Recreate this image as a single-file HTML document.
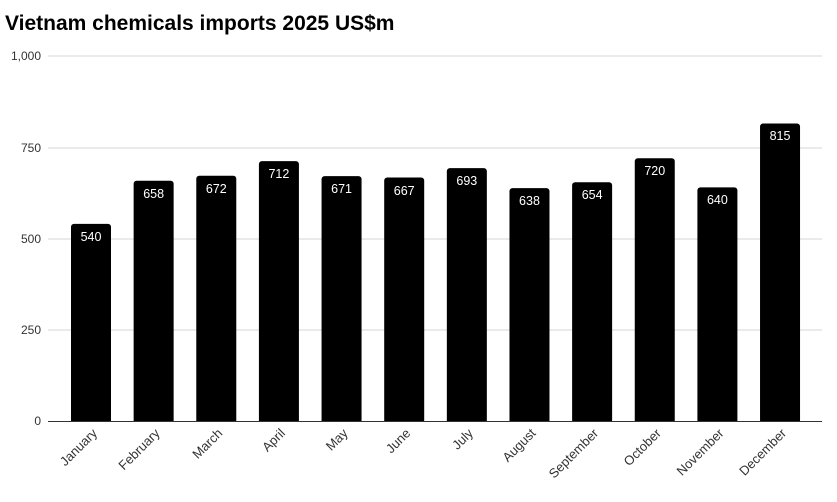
<!DOCTYPE html>
<html><head><style>body{margin:0;background:#fff}svg{display:block}</style></head><body>
<svg width="837" height="502" xmlns="http://www.w3.org/2000/svg" font-family="Liberation Sans, sans-serif">
<text x="5" y="30" font-size="21" font-weight="bold" fill="#000">Vietnam chemicals imports 2025 US$m</text>
<g stroke="#dddddd" stroke-width="1.3">
<line x1="48" x2="822" y1="56" y2="56"/><line x1="48" x2="822" y1="148" y2="148"/><line x1="48" x2="822" y1="239" y2="239"/><line x1="48" x2="822" y1="330" y2="330"/>
</g>
<g font-size="12" fill="#333" text-anchor="end">
<text x="41" y="60">1,000</text><text x="41" y="152">750</text><text x="41" y="243">500</text><text x="41" y="334">250</text><text x="41" y="425">0</text>
</g>
<g fill="#000">
<rect x="71" y="223.9" width="40" height="200" rx="3"/>
<rect x="133.64" y="180.8" width="40" height="243" rx="3"/>
<rect x="196.28" y="175.7" width="40" height="248" rx="3"/>
<rect x="258.92" y="161.1" width="40" height="263" rx="3"/>
<rect x="321.56" y="176.1" width="40" height="248" rx="3"/>
<rect x="384.2" y="177.5" width="40" height="246" rx="3"/>
<rect x="446.84" y="168.1" width="40" height="256" rx="3"/>
<rect x="509.48" y="188.1" width="40" height="236" rx="3"/>
<rect x="572.12" y="182.3" width="40" height="241" rx="3"/>
<rect x="634.76" y="158.2" width="40" height="266" rx="3"/>
<rect x="697.4" y="187.4" width="40" height="236" rx="3"/>
<rect x="760.04" y="123.5" width="40" height="300" rx="3"/>
</g>
<rect x="48" y="422" width="780" height="5" fill="#fff"/>
<line x1="48" x2="822" y1="421.5" y2="421.5" stroke="#333" stroke-width="1"/>
<g font-size="12.5" fill="#fff" text-anchor="middle">
<text x="91" y="241">540</text>
<text x="153.64" y="198">658</text>
<text x="216.28" y="193">672</text>
<text x="278.92" y="178">712</text>
<text x="341.56" y="193">671</text>
<text x="404.2" y="195">667</text>
<text x="466.84" y="185">693</text>
<text x="529.48" y="205">638</text>
<text x="592.12" y="199">654</text>
<text x="654.76" y="175">720</text>
<text x="717.4" y="204">640</text>
<text x="780.04" y="140">815</text>
</g>
<g font-size="13" fill="#333" text-anchor="end">
<text transform="translate(98,434) rotate(-45)">January</text>
<text transform="translate(160.64,434) rotate(-45)">February</text>
<text transform="translate(223.28,434) rotate(-45)">March</text>
<text transform="translate(285.92,434) rotate(-45)">April</text>
<text transform="translate(348.56,434) rotate(-45)">May</text>
<text transform="translate(411.2,434) rotate(-45)">June</text>
<text transform="translate(473.84,434) rotate(-45)">July</text>
<text transform="translate(536.48,434) rotate(-45)">August</text>
<text transform="translate(599.12,434) rotate(-45)">September</text>
<text transform="translate(661.76,434) rotate(-45)">October</text>
<text transform="translate(724.4,434) rotate(-45)">November</text>
<text transform="translate(787.04,434) rotate(-45)">December</text>
</g>
</svg>
</body></html>
